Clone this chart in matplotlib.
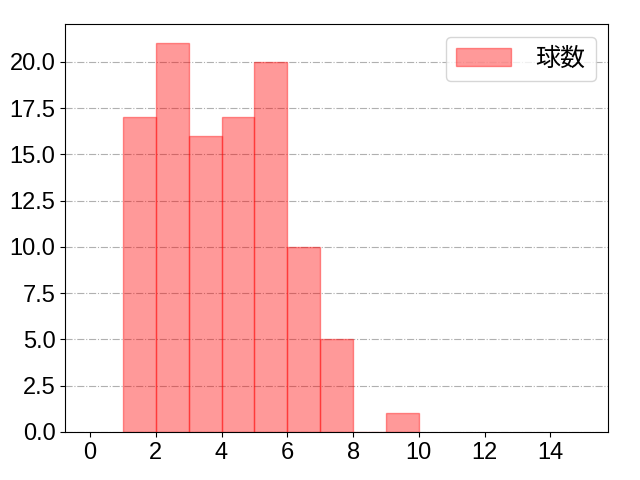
import matplotlib
matplotlib.use("Agg")
import matplotlib.pyplot as plt
from matplotlib.ticker import MultipleLocator

plt.rcParams['font.family'] = ['Liberation Sans', 'Noto Sans CJK JP', 'DejaVu Sans']

# bin left edges and counts (width 1)
bin_left = [1, 2, 3, 4, 5, 6, 7, 8, 9]
counts = [17, 21, 16, 17, 20, 10, 5, 0, 1]
label = '球数'

fig, ax = plt.subplots(figsize=(6.4, 4.8), dpi=100)
ax.bar(bin_left, counts, width=1, align='edge', color='red', alpha=0.4,
       edgecolor='red', linewidth=1, label=label)
ax.set_xlim(-0.75, 15.75)
ax.set_xticks(range(0, 15, 2))
ax.yaxis.set_major_locator(MultipleLocator(2.5))
ax.grid(axis='y', linestyle='-.', color='#b0b0b0')
ax.set_axisbelow(True)
ax.tick_params(labelsize=17)
ax.legend(loc='upper right', fontsize=18, handlelength=2.2, handletextpad=1.0)

fig.subplots_adjust(left=0.102, right=0.95, top=0.95, bottom=0.1)
fig.savefig('out.png')
